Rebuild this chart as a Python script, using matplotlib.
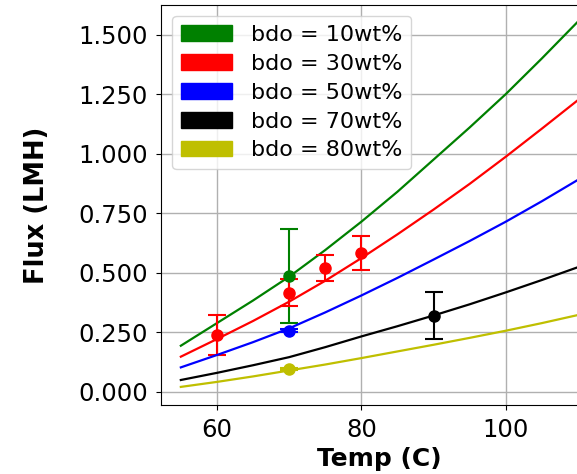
import numpy as np
import matplotlib
matplotlib.use('Agg')
import matplotlib.pyplot as plt
import matplotlib.patches as mpatches
from matplotlib.ticker import FormatStrFormatter

# model curves
temps = [55, 60, 65, 70, 75, 80, 85, 90, 95, 100, 105, 110]
flux_10 = [0.193, 0.288, 0.383, 0.483, 0.595, 0.714, 0.840, 0.975, 1.110, 1.250, 1.400, 1.555]
flux_30 = [0.147, 0.221, 0.297, 0.378, 0.466, 0.561, 0.661, 0.765, 0.873, 0.987, 1.105, 1.225]
flux_50 = [0.102, 0.154, 0.208, 0.266, 0.333, 0.404, 0.478, 0.555, 0.633, 0.714, 0.800, 0.890]
flux_70 = [0.049, 0.079, 0.111, 0.145, 0.187, 0.232, 0.275, 0.320, 0.367, 0.417, 0.469, 0.523]
flux_80 = [0.020, 0.041, 0.064, 0.089, 0.114, 0.141, 0.169, 0.197, 0.226, 0.256, 0.288, 0.322]

# measured points with error bars
exp_t_10, exp_f_10, exp_e_10 = [70], [0.485], [0.197]
exp_t_30, exp_f_30, exp_e_30 = [60, 70, 75, 80], [0.238, 0.416, 0.518, 0.584], [0.086, 0.058, 0.055, 0.072]
exp_t_50, exp_f_50, exp_e_50 = [70], [0.256], [0.006]
exp_t_70, exp_f_70, exp_e_70 = [90], [0.320], [0.100]
exp_t_80, exp_f_80, exp_e_80 = [70], [0.096], [0.005]

labels = ['bdo = 10wt%', 'bdo = 30wt%', 'bdo = 50wt%', 'bdo = 70wt%', 'bdo = 80wt%']
colors = ['g', 'r', 'b', 'k', 'y']

curves = [flux_10, flux_30, flux_50, flux_70, flux_80]
points = [(exp_t_10, exp_f_10, exp_e_10), (exp_t_30, exp_f_30, exp_e_30),
          (exp_t_50, exp_f_50, exp_e_50), (exp_t_70, exp_f_70, exp_e_70),
          (exp_t_80, exp_f_80, exp_e_80)]

fig = plt.figure(figsize=(5.77, 4.74), dpi=100)
ax = fig.add_axes([0.279, 0.1456, 0.757, 0.844])

for c, curve, (pt, pf, pe) in zip(colors, curves, points):
    ax.plot(temps, curve, color=c, lw=1.6)
    ax.errorbar(pt, pf, yerr=pe, fmt='o', color=c, ms=8, elinewidth=1.5,
                capsize=6.5, capthick=1.5)

ax.set_xlim(52.25, 112.75)
ax.set_ylim(-0.056, 1.625)
ax.set_xticks([60, 80, 100])
ax.set_yticks([0, 0.25, 0.5, 0.75, 1.0, 1.25, 1.5])
ax.yaxis.set_major_formatter(FormatStrFormatter('%.3f'))
ax.tick_params(labelsize=17.5, pad=6)
ax.grid(True, color='#b0b0b0', lw=1)

ax.set_xlabel('Temp (C)', fontsize=18, fontweight='bold')
ax.set_ylabel('Flux (LMH)', fontsize=18.5, fontweight='bold')
ax.xaxis.set_label_coords(0.5, -0.105)
ax.yaxis.set_label_coords(-0.254, 0.5)

handles = [mpatches.Patch(color=c, label=l) for c, l in zip(colors, labels)]
ax.legend(handles=handles, loc='upper left', fontsize=16, labelspacing=0.4,
          handlelength=2.3, handletextpad=0.85, borderaxespad=0.5)

fig.savefig('out.png', dpi=100)
